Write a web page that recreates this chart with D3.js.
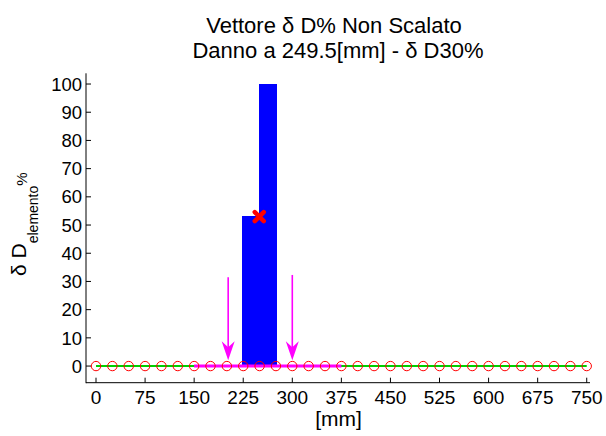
<!DOCTYPE html>
<html><head><meta charset="utf-8">
<script src="https://cdn.jsdelivr.net/npm/d3@7"></script>
<style>body{margin:0;background:#fff}svg{display:block}text{font-family:"Liberation Sans",Arial,sans-serif;fill:#000}</style>
</head><body><svg id="c" width="606" height="436"></svg>
<script>
// ---- data ----
const nodePos = [0,25,50,75,100,125,150,175,200,225,250,275,300,325,350,375,400,425,450,475,500,525,550,575,600,625,650,675,700,725,750];
const nodeVal = [0,0,0,0,0,0,0,0,0,0,0,0,0,0,0,0,0,0,0,0,0,0,0,0,0,0,0,0,0,0,0];
const barStart = [222.5, 249.5];
const barEnd = [249.5, 276.5];
const barVal = [53.3, 100];
const greenX = [0, 750];
const greenY = [0, 0];
const magentaX = [150, 375];
const magentaY = [0, 0];
const arrowX = [202, 300];
const arrowTop = [31.5, 32.3];
const arrowTip = [2.1, 2.1];
const markerX = [249.5];
const markerY = [53];
const xTicks = [0,75,150,225,300,375,450,525,600,675,750];
const yTicks = [0,10,20,30,40,50,60,70,80,90,100];
const title1 = "Vettore \u03b4 D% Non Scalato";
const title2 = "Danno a 249.5[mm] - \u03b4 D30%";
const xLabel = "[mm]";

// ---- layout ----
const svg = d3.select("#c");
const x = d3.scaleLinear().domain([-15.3, 755]).range([86, 590]);
const y = d3.scaleLinear().domain([-5.9, 103.8]).range([382.7, 73.3]);

// bars
svg.append("g").attr("shape-rendering","crispEdges").selectAll("rect").data(barVal).join("rect")
  .attr("x", (d,i)=>x(barStart[i]))
  .attr("width", (d,i)=>x(barEnd[i])-x(barStart[i])+0.5)
  .attr("y", d=>y(d))
  .attr("height", d=>y(0)-y(d))
  .attr("fill", "#0000ff");

const line = d3.line().x(d=>x(d[0])).y(d=>y(d[1]));
svg.append("path").attr("d", line(d3.zip(greenX, greenY)))
  .attr("stroke", "#00d000").attr("stroke-width", 2).attr("fill", "none");
svg.append("path").attr("d", line(d3.zip(magentaX, magentaY)))
  .attr("stroke", "#ff00ff").attr("stroke-width", 3).attr("fill", "none");

// circles
svg.append("g").selectAll("circle").data(nodePos).join("circle")
  .attr("cx", d=>x(d)).attr("cy", (d,i)=>y(nodeVal[i])).attr("r", 4.7)
  .attr("fill", "none").attr("stroke", "#ff0000").attr("stroke-width", 1);

// arrows
const ag = svg.append("g");
arrowX.forEach((ax,i)=>{
  const px = x(ax), pt = y(arrowTop[i]), tip = y(arrowTip[i]);
  ag.append("line").attr("x1", px).attr("x2", px).attr("y1", pt).attr("y2", tip-8)
    .attr("stroke", "#ff00ff").attr("stroke-width", 1.6);
  ag.append("path")
    .attr("d", `M${px},${tip} L${px-6.5},${tip-19} L${px},${tip-13} L${px+6.5},${tip-19} Z`)
    .attr("fill", "#ff00ff");
});

// marker X
svg.append("g").selectAll("path").data(markerX).join("path")
  .attr("d", (d,i)=>{const cx=x(d), cy=y(markerY[i]), s=4.5; return `M${cx-s},${cy-s}L${cx+s},${cy+s}M${cx-s},${cy+s}L${cx+s},${cy-s}`;})
  .attr("stroke", "#ff0000").attr("stroke-width", 4.5).attr("stroke-linecap","round").attr("fill","none");

// axes
const axG = svg.append("g");
axG.append("line").attr("x1", 86).attr("x2", 86).attr("y1", y.range()[1]).attr("y2", y.range()[0]+0.5)
  .attr("stroke", "#000").attr("stroke-width", 1);
axG.append("line").attr("x1", 86).attr("x2", 590).attr("y1", y.range()[0]).attr("y2", y.range()[0])
  .attr("stroke", "#000").attr("stroke-width", 1);
axG.selectAll(".yt").data(yTicks).join("line").attr("class","yt")
  .attr("x1", 86).attr("x2", 91).attr("y1", d=>y(d)).attr("y2", d=>y(d)).attr("stroke","#000");
axG.selectAll(".xt").data(xTicks).join("line").attr("class","xt")
  .attr("x1", d=>x(d)).attr("x2", d=>x(d)).attr("y1", y.range()[0]).attr("y2", y.range()[0]-5).attr("stroke","#000");
axG.selectAll(".yl").data(yTicks).join("text").attr("class","yl")
  .attr("x", 82).attr("y", d=>y(d)).attr("dy", "0.36em").attr("text-anchor","end")
  .attr("font-size", 18.5).text(d=>d);
axG.selectAll(".xl").data(xTicks).join("text").attr("class","xl")
  .attr("x", d=>x(d)).attr("y", 404).attr("text-anchor","middle")
  .attr("font-size", 19).text(d=>d);
svg.append("text").attr("x", 338.5).attr("y", 426).attr("text-anchor","middle")
  .attr("font-size", 21).text(xLabel);

// title
svg.append("text").attr("x", 334).attr("y", 33).attr("text-anchor","middle").attr("font-size", 22).text(title1);
svg.append("text").attr("x", 338).attr("y", 57.5).attr("text-anchor","middle").attr("font-size", 22).text(title2);

// y label
const yl = svg.append("text").attr("transform", "translate(26,276) rotate(-90)").attr("font-size", 21);
yl.append("tspan").text("\u03b4 D");
yl.append("tspan").attr("font-size", 14).attr("dy", 12).text("elemento");
yl.append("tspan").attr("font-size", 15).attr("dy", -11).text("%");
</script></body></html>
